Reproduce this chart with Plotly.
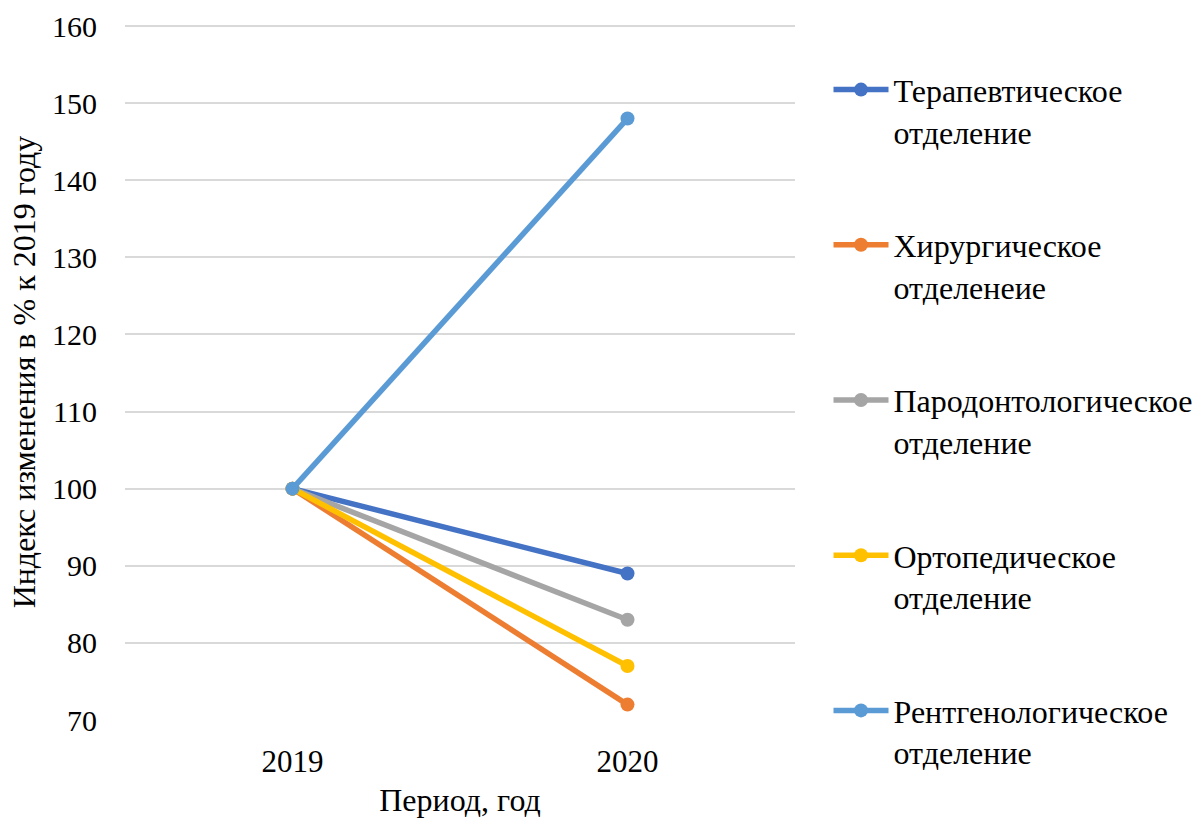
import plotly.graph_objects as go

years = ["2019", "2020"]
departments = [
    "Терапевтическое<br>отделение",
    "Хирургическое<br>отделенеие",
    "Пародонтологическое<br>отделение",
    "Ортопедическое<br>отделение",
    "Рентгенологическое<br>отделение",
]
index_2019 = [100, 100, 100, 100, 100]
index_2020 = [89, 72, 83, 77, 148]
colors = ["#4472C4", "#ED7D31", "#A5A5A5", "#FFC000", "#5B9BD5"]
y_ticks = [70, 80, 90, 100, 110, 120, 130, 140, 150, 160]

FONT = "Liberation Serif"

fig = go.Figure()
for i, name in enumerate(departments):
    fig.add_trace(go.Scatter(
        x=[0, 1],
        y=[index_2019[i], index_2020[i]],
        mode="lines+markers",
        name=name,
        legendgroup=str(i),
        line=dict(color=colors[i], width=5.5),
        marker=dict(color=colors[i], size=14),
        cliponaxis=False,
    ))

fig.update_layout(
    width=1197, height=818,
    margin=dict(l=125, r=402, t=24, b=98, autoexpand=False),
    paper_bgcolor="white", plot_bgcolor="white",
    font=dict(family=FONT, size=30, color="black"),
    showlegend=True,
    legend=dict(
        x=1.05, y=0.945, xanchor="left", yanchor="top",
        font=dict(family=FONT, size=32, color="black"),
        tracegroupgap=69, valign="top",
        itemwidth=55, maxheight=800,
    ),
    xaxis=dict(
        range=[-0.5, 1.5],
        tickmode="array", tickvals=[0, 1], ticktext=years,
        showgrid=False, zeroline=False, showline=False,
        ticks="", ticklabelstandoff=20, automargin=False,
        tickfont=dict(family=FONT, size=31),
        title=dict(text="Период, год", standoff=12,
                   font=dict(family=FONT, size=32)),
    ),
    yaxis=dict(
        range=[70, 160.26],
        tickmode="array", tickvals=y_ticks,
        showgrid=True, gridcolor="#D9D9D9", gridwidth=1.5,
        zeroline=False, showline=False, ticks="",
        ticklabelstandoff=27, automargin=False,
        tickfont=dict(family=FONT, size=30),
        title=dict(text="Индекс изменения в % к 2019 году", standoff=6,
                   font=dict(family=FONT, size=32)),
    ),
)

fig.write_html("out.html")
